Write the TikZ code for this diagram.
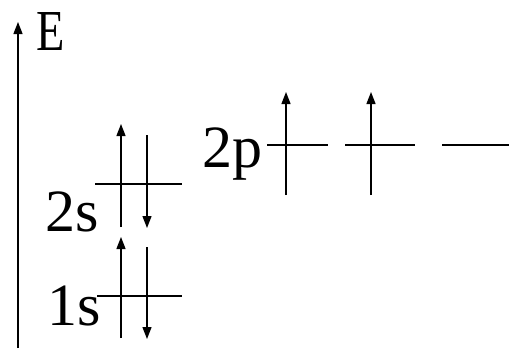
\documentclass[tikz,border=0pt]{standalone}
\usepackage{fontspec}
\setmainfont{Liberation Serif}
\usetikzlibrary{arrows.meta}
\tikzset{
  lvl/.style={line width=1.3pt, line cap=butt},
  spin/.style={line width=1.3pt, -{Triangle[length=12pt,width=9pt]}},
  orb/.style={inner sep=0pt, anchor=base west, font=\fontsize{60}{60}\selectfont},
  axlabel/.style={inner sep=0pt, anchor=base west, xscale=0.8, font=\fontsize{58}{58}\selectfont}
}
\begin{document}
\begin{tikzpicture}[x=1pt,y=-1pt]
\useasboundingbox (0,0) rectangle (510,348);
% axis
\coordinate (ax0) at (18,348);
\coordinate (ax1) at (18,22);
\draw[spin] (ax0) -- (ax1);
\node[axlabel] (E) at (36,50) {E};
% labels
\node[orb] (l2s) at (45,231) {2s};
\node[orb] (l1s) at (47,325) {1s};
\node[orb] (l2p) at (202,167) {2p};
% 1s level
\coordinate (s1a) at (97,296); \coordinate (s1b) at (182,296);
\draw[lvl] (s1a) -- (s1b);
\coordinate (u1a) at (121,338); \coordinate (u1b) at (121,237);
\coordinate (d1a) at (147,247); \coordinate (d1b) at (147,339);
\draw[spin] (u1a) -- (u1b);
\draw[spin] (d1a) -- (d1b);
% 2s level
\coordinate (s2a) at (95,184); \coordinate (s2b) at (182,184);
\draw[lvl] (s2a) -- (s2b);
\coordinate (u2a) at (121,227); \coordinate (u2b) at (121,124);
\coordinate (d2a) at (147,135); \coordinate (d2b) at (147,228);
\draw[spin] (u2a) -- (u2b);
\draw[spin] (d2a) -- (d2b);
% 2p levels
\coordinate (p1a) at (267,145); \coordinate (p1b) at (328,145);
\coordinate (p2a) at (345,145); \coordinate (p2b) at (415,145);
\coordinate (p3a) at (442,145); \coordinate (p3b) at (509,145);
\draw[lvl] (p1a) -- (p1b);
\draw[lvl] (p2a) -- (p2b);
\draw[lvl] (p3a) -- (p3b);
\coordinate (pu1a) at (286,195); \coordinate (pu1b) at (286,92);
\coordinate (pu2a) at (371,195); \coordinate (pu2b) at (371,92);
\draw[spin] (pu1a) -- (pu1b);
\draw[spin] (pu2a) -- (pu2b);
\end{tikzpicture}
\end{document}
